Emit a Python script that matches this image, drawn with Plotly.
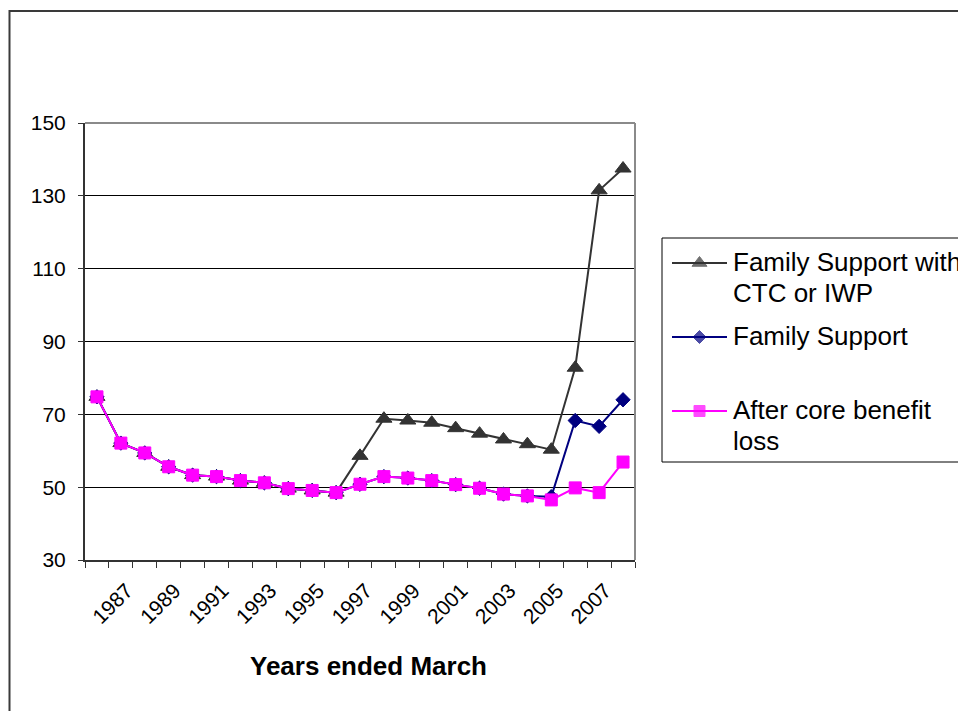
import plotly.graph_objects as go

# ---------------- data ----------------
years = [1986, 1987, 1988, 1989, 1990, 1991, 1992, 1993, 1994, 1995, 1996, 1997,
         1998, 1999, 2000, 2001, 2002, 2003, 2004, 2005, 2006, 2007, 2008]
tick_years = [1987, 1989, 1991, 1993, 1995, 1997, 1999, 2001, 2003, 2005, 2007]

fs_ctc = [74.8, 62.1, 59.4, 55.6, 53.3, 52.9, 51.8, 51.2, 49.6, 49.1, 48.5, 58.6,
          68.8, 68.3, 67.7, 66.2, 64.7, 63.1, 61.8, 60.3, 82.8, 131.5, 137.5]
fs = [74.8, 62.1, 59.4, 55.6, 53.3, 52.9, 51.8, 51.2, 49.6, 49.1, 48.5, 50.8,
      52.9, 52.5, 51.8, 50.7, 49.7, 48.1, 47.6, 47.4, 68.3, 66.7, 74.0]
after_core = [74.8, 62.1, 59.4, 55.6, 53.3, 52.9, 51.8, 51.2, 49.6, 49.1, 48.5, 50.8,
              52.9, 52.5, 51.8, 50.7, 49.7, 48.1, 47.6, 46.5, 49.8, 48.5, 56.9]

series_names = [["Family Support with", "CTC or IWP"], ["Family Support"],
                ["After core benefit", "loss"]]
series_values = [fs_ctc, fs, after_core]
series_colors = ["#333333", "#000080", "#FF00FF"]
series_symbols = ["triangle-up", "diamond", "square"]
series_sizes = [14, 11, 12]

# ---------------- layout geometry (pixels) ----------------
W, H = 958, 711
PL, PR, PT, PB = 85, 635, 123, 560          # plot area
FONT = "Liberation Sans, Arial, sans-serif"


def px(x):
    return x / W


def py(y):
    return 1 - y / H


fig = go.Figure()

for vals, col, sym, sz in zip(series_values, series_colors, series_symbols, series_sizes):
    fig.add_trace(go.Scatter(
        x=years, y=vals, mode="lines+markers",
        line=dict(color=col, width=2),
        marker=dict(symbol=sym, size=sz, color=col, line=dict(color=col, width=1)),
        showlegend=False, xaxis="x", yaxis="y"))

# legend samples drawn in a hidden pixel-scaled axes
leg_x0, leg_x1, leg_y0, leg_y1 = 662, 958, 238, 462
leg_rows = [263, 337, 411]
for row, col, sym, sz in zip(leg_rows, series_colors, series_symbols, series_sizes):
    fig.add_trace(go.Scatter(
        x=[672, 699.5, 727], y=[row, row, row], mode="lines+markers",
        line=dict(color=col, width=2),
        marker=dict(symbol=sym, size=[0, sz - 1, 0], color=col, line=dict(color=col, width=1)),
        showlegend=False, hoverinfo="skip", xaxis="x2", yaxis="y2"))

annotations = []
for row, lines in zip(leg_rows, series_names):
    for i, t in enumerate(lines):
        annotations.append(dict(
            x=px(731), y=py(row - 1 + i * 31), xref="paper", yref="paper",
            text=t, showarrow=False, xanchor="left", yanchor="middle",
            font=dict(family=FONT, size=26, color="black")))

annotations.append(dict(
    x=px(368), y=py(666), xref="paper", yref="paper", text="<b>Years ended March</b>",
    showarrow=False, xanchor="center", yanchor="middle",
    font=dict(family=FONT, size=26, color="black")))

shapes = [
    # outer chart frame
    dict(type="rect", xref="paper", yref="paper", x0=px(9.5), x1=1.05, y0=-0.05, y1=py(11),
         line=dict(color="#3a3a3a", width=2), layer="below"),
    # plot area border top/right (gray)
    dict(type="line", xref="paper", yref="paper", x0=px(PL), x1=px(PR), y0=py(PT), y1=py(PT),
         line=dict(color="#8a8a8a", width=2), layer="above"),
    dict(type="line", xref="paper", yref="paper", x0=px(PR), x1=px(PR), y0=py(PT), y1=py(PB),
         line=dict(color="#8a8a8a", width=2), layer="above"),
    # legend box
    dict(type="rect", xref="paper", yref="paper", x0=px(leg_x0), x1=1.05, y0=py(leg_y1), y1=py(leg_y0),
         line=dict(color="black", width=1)),
]

fig.update_layout(
    width=W, height=H,
    margin=dict(l=0, r=0, t=0, b=0, pad=0, autoexpand=False),
    paper_bgcolor="white", plot_bgcolor="white",
    font=dict(family=FONT, color="black"),
    showlegend=False,
    xaxis=dict(
        domain=[px(PL), px(PR)], range=[years[0] - 0.5, years[-1] + 0.5],
        tickmode="array", tickvals=tick_years, ticktext=[str(y) for y in tick_years],
        tickangle=-45, ticks="", tickfont=dict(size=21, family=FONT),
        ticklabelstandoff=8, ticklabelshift=6, automargin=False,
        showgrid=False, zeroline=False,
        showline=True, linecolor="#333333", linewidth=2,
        minor=dict(tickmode="array", tickvals=[y - 0.5 for y in years] + [years[-1] + 0.5],
                   ticks="outside", ticklen=6, tickcolor="#333333", tickwidth=1, showgrid=False),
        fixedrange=True),
    yaxis=dict(
        domain=[py(PB), py(PT)], range=[30, 150], dtick=20, tick0=30,
        ticks="outside", ticklen=5, tickcolor="#333333", automargin=False,
        tickfont=dict(size=21, family=FONT), ticklabelstandoff=8,
        showgrid=True, gridcolor="black", gridwidth=1, zeroline=False,
        showline=True, linecolor="#333333", linewidth=2, fixedrange=True),
    xaxis2=dict(domain=[px(leg_x0), 1], range=[leg_x0, leg_x1], visible=False,
                anchor="y2", fixedrange=True, automargin=False),
    yaxis2=dict(domain=[py(leg_y1), py(leg_y0)], range=[leg_y1, leg_y0], visible=False,
                anchor="x2", fixedrange=True, automargin=False),
    shapes=shapes,
    annotations=annotations,
)

fig.write_html("out.html")
